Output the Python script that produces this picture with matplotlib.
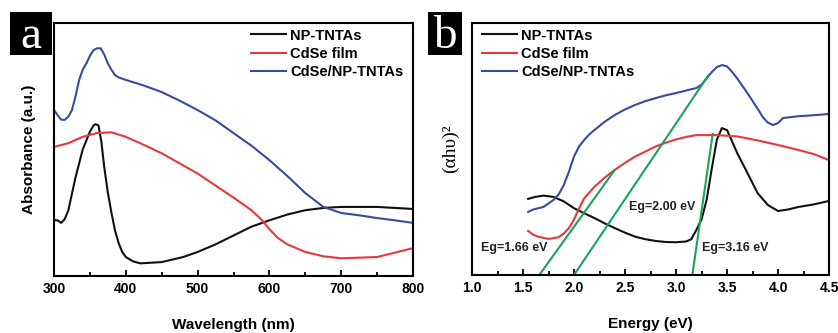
import matplotlib
matplotlib.use('Agg')
import matplotlib.pyplot as plt
from matplotlib.patches import Rectangle
from matplotlib.ticker import MultipleLocator, FormatStrFormatter

# ---- panel a: absorbance vs wavelength ----
wl_np = [300, 305, 310, 315, 320, 330, 340, 350, 355, 358, 362, 366, 370, 375,
         380, 385, 390, 395, 400, 410, 420, 450, 480, 500, 525, 550, 575, 600,
         625, 650, 675, 700, 750, 800]
abs_np = [22.1, 22, 21, 22.5, 26, 39, 50, 57, 59.5, 60, 59.5, 53, 43, 33,
          25, 18, 13, 9.5, 7.5, 5.8, 5, 5.5, 7.5, 9.5, 12.5, 16, 19.5, 22,
          24.3, 26, 26.9, 27.3, 27.3, 26.5]

wl_cdse = [300, 320, 340, 360, 380, 400, 420, 450, 500, 550, 575, 590, 600,
           612, 625, 650, 675, 700, 750, 800]
abs_cdse = [51, 52.5, 55, 56.5, 56.8, 55, 52.5, 48.5, 40.5, 31, 26, 22, 18.5,
            15, 12.5, 9.5, 7.8, 7, 7.5, 11]

wl_comp = [300, 305, 310, 315, 320, 325, 330, 335, 340, 345, 350, 355, 360,
           365, 370, 375, 380, 385, 390, 400, 425, 450, 475, 500, 525, 550,
           575, 600, 625, 650, 675, 700, 725, 750, 775, 800]
abs_comp = [65.6, 63.6, 61.8, 61.7, 63, 65.6, 71, 77.5, 81.5, 84, 87, 89.3,
            90, 90, 87.5, 84, 81.5, 79.4, 78.5, 77.5, 75.3, 72.7, 69.3, 65.6,
            61.5, 56.5, 51.5, 45.8, 39.5, 32.8, 27.3, 24.9, 24, 22.9, 22, 21]

# ---- panel b: Tauc plot ----
e_np = [1.55, 1.62, 1.70, 1.80, 1.9, 2.0, 2.1, 2.2, 2.3, 2.4, 2.5, 2.6, 2.7,
        2.8, 2.9, 3.0, 3.1, 3.15, 3.2, 3.25, 3.3, 3.35, 3.4, 3.45, 3.5, 3.55,
        3.6, 3.7, 3.8, 3.9, 4.0, 4.1, 4.2, 4.35, 4.5]
t_np = [30.2, 31, 31.5, 31, 29.2, 26.5, 24.5, 22.6, 20.5, 18.6, 16.8, 15.2,
        14.2, 13.5, 13.1, 13, 13.3, 14.2, 17.9, 22, 29.8, 42, 53.6, 58.3,
        57.5, 53, 48.4, 40.5, 32.5, 27.8, 25.4, 26, 27, 28, 29.4]

e_cdse = [1.55, 1.6, 1.65, 1.75, 1.85, 1.9, 1.95, 2.0, 2.05, 2.1, 2.2, 2.3,
          2.4, 2.5, 2.6, 2.7, 2.8, 2.9, 3.0, 3.1, 3.2, 3.4, 3.6, 3.8, 4.0,
          4.2, 4.35, 4.5]
t_cdse = [17.5, 16, 15.2, 14.3, 15, 16.5, 18.6, 22, 26.5, 30.4, 35, 38.6,
          41.7, 44.5, 47, 49, 51, 52.5, 53.8, 54.8, 55.5, 55.5, 55, 53.4,
          51.6, 49.6, 48, 45.6]

e_comp = [1.55, 1.6, 1.7, 1.8, 1.85, 1.9, 1.95, 2.0, 2.05, 2.1, 2.15, 2.2,
          2.3, 2.4, 2.5, 2.6, 2.7, 2.8, 2.9, 3.0, 3.1, 3.2, 3.25, 3.3, 3.35,
          3.4, 3.45, 3.5, 3.55, 3.6, 3.7, 3.8, 3.85, 3.9, 3.95, 4.0, 4.05,
          4.2, 4.35, 4.5]
t_comp = [25, 26, 27, 29.8, 32, 35.7, 41, 47, 51, 53.6, 55.8, 57.5, 60.8,
          63.5, 65.7, 67.5, 69, 70.2, 71.3, 72.2, 73.2, 74.2, 75.5, 78, 80.5,
          82.5, 83.3, 82.8, 80.6, 78, 72.2, 66, 62.7, 60.5, 59.5, 60.3, 62.3,
          63, 63.4, 63.9]

# tangent lines (x start/end, y start/end) and band-gap labels
fit_x = [(1.66, 2.40), (2.00, 3.32), (3.16, 3.36)]
fit_y = [(0, 41.7), (0, 79.4), (0, 56)]
eg_labels = ['Eg=1.66 eV', 'Eg=2.00 eV', 'Eg=3.16 eV']
eg_pos = [(1.41, 10.7), (2.86, 27), (3.58, 10.7)]

series_names = ['NP-TNTAs', 'CdSe film', 'CdSe/NP-TNTAs']
colors = ['#111111', '#e8383d', '#3a4aa0']
green = '#1aa35a'

plt.rcParams['font.family'] = ['Liberation Sans', 'DejaVu Sans']
plt.rcParams['font.weight'] = 'bold'

fig = plt.figure(figsize=(8.38, 3.33), dpi=100)
ax_a = fig.add_axes([54 / 838, 57 / 333, 359 / 838, 253 / 333])
ax_b = fig.add_axes([472 / 838, 58 / 333, 357 / 838, 252 / 333])


def style(ax):
    for s in ax.spines.values():
        s.set_linewidth(1.5)
    ax.set_yticks([])
    ax.tick_params(axis='x', which='both', direction='in', top=False,
                   labelsize=10, pad=4, width=1.3)
    ax.tick_params(axis='x', which='major', length=4)
    ax.tick_params(axis='x', which='minor', length=3)
    for lbl in ax.get_xticklabels():
        lbl.set_fontweight('bold')


legend_kw = dict(frameon=False, handlelength=2.4, handletextpad=0.3,
                 labelspacing=0.3, prop={'weight': 'bold', 'size': 10.5})

lw = 1.5
ax_a.plot(wl_np, abs_np, color=colors[0], lw=lw, label=series_names[0])
ax_a.plot(wl_cdse, abs_cdse, color=colors[1], lw=lw, label=series_names[1])
ax_a.plot(wl_comp, abs_comp, color=colors[2], lw=lw, label=series_names[2])
ax_a.set_xlim(300, 800)
ax_a.set_ylim(0, 100)
ax_a.xaxis.set_major_locator(MultipleLocator(100))
ax_a.xaxis.set_minor_locator(MultipleLocator(50))
style(ax_a)
ax_a.set_xlabel('Wavelength (nm)', fontsize=11, fontweight='bold', labelpad=16)
ax_a.set_ylabel('Absorbance (a.u.)', fontsize=11, fontweight='bold', labelpad=13)
ax_a.legend(loc='upper right', bbox_to_anchor=(1.01, 1.03), **legend_kw)

ax_b.plot(e_np, t_np, color=colors[0], lw=lw, label=series_names[0])
ax_b.plot(e_cdse, t_cdse, color=colors[1], lw=lw, label=series_names[1])
ax_b.plot(e_comp, t_comp, color=colors[2], lw=lw, label=series_names[2])
for xs, ys in zip(fit_x, fit_y):
    ax_b.plot(xs, ys, color=green, lw=1.5)
for txt, (x, y) in zip(eg_labels, eg_pos):
    ax_b.text(x, y, txt, fontsize=9, fontweight='bold', ha='center',
              va='center', color='#222222')
ax_b.set_xlim(1.0, 4.5)
ax_b.set_ylim(0, 100)
ax_b.xaxis.set_major_locator(MultipleLocator(0.5))
ax_b.xaxis.set_minor_locator(MultipleLocator(0.25))
ax_b.xaxis.set_major_formatter(FormatStrFormatter('%.1f'))
style(ax_b)
ax_b.set_xlabel('Energy (eV)', fontsize=11, fontweight='bold', labelpad=16)
ax_b.set_ylabel('(\u03b1h\u03c5)\u00b2', fontsize=14, fontweight='normal',
                family=['Liberation Serif', 'DejaVu Serif'], labelpad=9)
ax_b.legend(loc='upper left', bbox_to_anchor=(-0.01, 1.03), **legend_kw)

# panel letters in black boxes
for (x0, x1), letter in [((10, 52), 'a'), ((428, 462), 'b')]:
    y0, y1 = 333 - 55, 333 - 12
    fig.patches.append(Rectangle((x0 / 838, y0 / 333), (x1 - x0) / 838,
                                 (y1 - y0) / 333, transform=fig.transFigure,
                                 facecolor='black', edgecolor='none'))
    fig.text((x0 + x1) / 2 / 838, (y0 + y1) / 2 / 333 - 0.01, letter,
             color='white', fontsize=34, ha='center', va='center',
             family=['Liberation Serif', 'DejaVu Serif'], fontweight='normal')

fig.savefig('out.png', dpi=100)
